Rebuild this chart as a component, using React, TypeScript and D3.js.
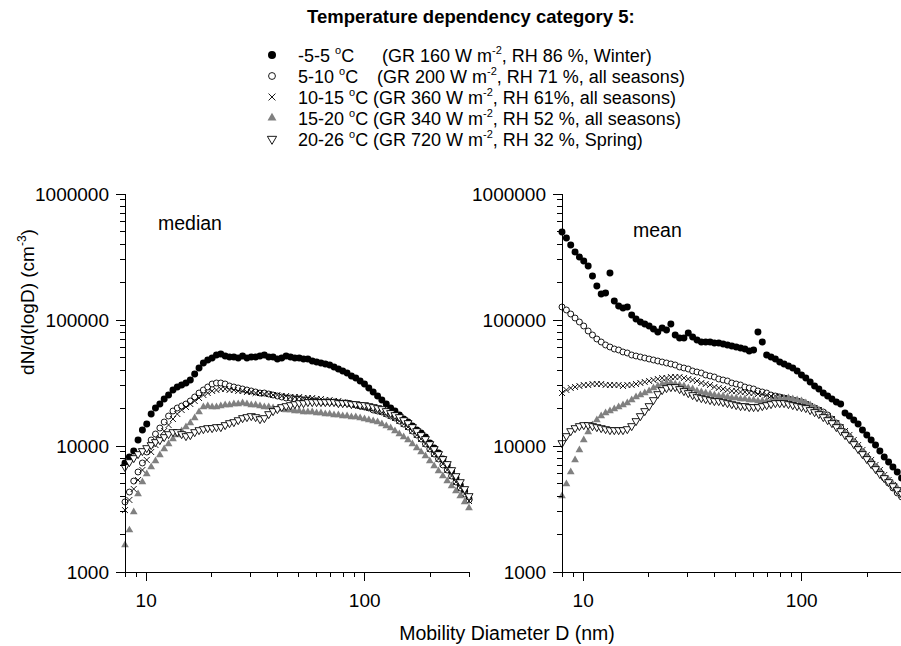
import * as d3 from "d3";

// mobility diameters (nm), same bins for every series
const diameters = [
  8.0, 8.38, 8.77, 9.18, 9.61, 10.06, 10.54, 11.03, 11.55, 12.09, 12.66, 13.26, 13.88, 14.53, 15.21, 15.92,
  16.67, 17.45, 18.27, 19.13, 20.03, 20.97, 21.95, 22.98, 24.06, 25.19, 26.37, 27.61, 28.91, 30.26, 31.68,
  33.17, 34.73, 36.36, 38.07, 39.85, 41.72, 43.68, 45.73, 47.88, 50.13, 52.48, 54.94, 57.52, 60.22, 63.05,
  66.01, 69.11, 72.35, 75.75, 79.3, 83.02, 86.92, 91.0, 95.28, 99.75, 104.4, 109.3, 114.5, 119.8, 125.5,
  131.4, 137.5, 144.0, 150.7, 157.8, 165.2, 173.0, 181.1, 189.6, 198.5, 207.8, 217.6, 227.8, 238.5, 249.7,
  261.4, 273.6, 286.5, 300.0,
];

// median, dN/dlogD (cm-3)
const medianCold = [
  7330, 8180, 9130, 11160, 13390, 14940, 17940, 20030, 21540, 23610, 25390, 27830, 29400, 30490, 31630, 33410,
  37280, 41600, 45580, 48150, 49940, 52750, 53730, 51800, 50860, 50860, 49940, 51800, 49940, 50860, 50860,
  51800, 52750, 50860, 50860, 49030, 49940, 51800, 50860, 49940, 49940, 49030, 49030, 47270, 46420, 45580,
  44760, 43940, 42370, 40850, 39380, 37970, 35940, 34650, 32810, 31050, 28870, 26830, 24930, 23180, 21540,
  20030, 18960, 17620, 16370, 15500, 14410, 13390, 12680, 11790, 10560, 9640, 8800, 7890, 7070, 6330, 5570,
  4900, 4390, 3800,
];
const median5to10 = [
  3600, 4310, 5270, 6220, 7330, 8960, 11160, 12450, 13890, 15500, 17300, 18960, 20030, 20770, 21540, 22770,
  24480, 26340, 27830, 29400, 31050, 31630, 31630, 31050, 29940, 29400, 28870, 28340, 27830, 27330, 26830,
  26340, 26340, 25870, 25390, 24930, 24480, 24040, 24040, 23610, 23610, 23180, 23180, 22770, 22770, 22350,
  22350, 22350, 22350, 21940, 21940, 21940, 21540, 21150, 20770, 20400, 20030, 19310, 18960, 18620, 17940,
  17300, 16680, 15790, 14940, 14150, 13150, 12230, 11370, 10370, 9470, 8640, 7890, 7070, 6450, 5780, 5180,
  4640, 4160, 3730,
];
const median10to15 = [
  3100, 3730, 4560, 5370, 6450, 7750, 8960, 10180, 11580, 13150, 14680, 16370, 17940, 19310, 20400, 21540,
  22770, 24040, 25390, 26340, 27330, 27830, 28340, 28340, 27830, 27830, 27330, 27330, 26830, 26830, 26340,
  26340, 25870, 25870, 25390, 25390, 24930, 24930, 24480, 24480, 24480, 24040, 24040, 24040, 23610, 23610,
  23180, 23180, 22770, 22770, 22350, 21940, 21540, 21150, 20770, 20400, 20030, 19670, 18960, 18620, 17940,
  17300, 16680, 15790, 14940, 14150, 13150, 12230, 11370, 10370, 9470, 8640, 7890, 7200, 6450, 5780, 5180,
  4640, 4160, 3660,
];
const median15to20 = [
  1640, 2150, 2990, 4160, 5180, 6000, 6810, 7600, 8480, 9470, 10370, 11370, 12230, 13150, 14150, 15220,
  16680, 18620, 20400, 20770, 20400, 20400, 20770, 21150, 21150, 21540, 21540, 21940, 21540, 21150, 21150,
  20770, 20400, 20400, 20030, 19670, 19670, 19310, 19310, 18960, 18960, 18620, 18620, 18620, 18290, 18290,
  17940, 17940, 17620, 17620, 17300, 17300, 16990, 16990, 16680, 16370, 16070, 15790, 15500, 14940, 14410,
  13890, 13150, 12450, 11790, 11160, 10370, 9640, 8960, 8330, 7600, 6940, 6330, 5780, 5270, 4810, 4390,
  4010, 3600, 3220,
];
const median20to26 = [
  6810, 7460, 8030, 8640, 9130, 9640, 10180, 10760, 11160, 11790, 12450, 12910, 12910, 12450, 12000, 12230,
  12910, 13390, 13640, 13890, 13890, 14150, 14150, 14680, 15220, 15500, 16070, 16680, 16990, 17300, 16990,
  16370, 16680, 17940, 18960, 19670, 20400, 20770, 21150, 21540, 21940, 21940, 22350, 22350, 22350, 22350,
  22350, 22350, 22350, 21940, 21940, 21940, 21540, 21540, 21150, 21150, 20770, 20400, 20030, 19670, 18960,
  18290, 17620, 16990, 16070, 15220, 14150, 13150, 12230, 11370, 10370, 9470, 8640, 7890, 7200, 6450, 5780,
  5180, 4560, 4010,
];

// mean, dN/dlogD (cm-3)
const meanCold = [
  499000, 447500, 393800, 346500, 316300, 293900, 268300, 223400, 186100, 160800, 163700, 236100, 141500,
  129100, 124500, 126800, 109600, 101800, 96410, 92960, 89630, 84850, 80320, 86420, 83320, 92960, 76040,
  71970, 71970, 78870, 73300, 69390, 66910, 66910, 66910, 65700, 65700, 64510, 63340, 62200, 61070, 59970,
  58880, 56770, 57810, 80320, 66910, 52750, 50860, 49030, 46420, 44760, 43150, 41600, 39380, 36610, 34650,
  32210, 29940, 28340, 26340, 24930, 23610, 22350, 21540, 18290, 17300, 16070, 14940, 13390, 12230, 11160,
  10180, 9130, 8180, 7460, 6810, 6220, 5570, 4990,
];
const mean5to10 = [
  126800, 120100, 111600, 103700, 96410, 89630, 81800, 76040, 70670, 66910, 63340, 61070, 58880, 57810,
  55740, 54730, 52750, 51800, 50860, 49940, 49030, 48150, 47270, 46420, 45580, 44760, 43940, 42370, 41600,
  40850, 39380, 38670, 37970, 36610, 35940, 35290, 34030, 33410, 32810, 31630, 31050, 30490, 29400, 28870,
  28340, 27330, 26830, 26340, 25390, 24930, 24480, 24040, 23610, 23180, 22770, 22350, 21540, 20770, 20030,
  19310, 18620, 17620, 16370, 15220, 14150, 12910, 11790, 10760, 9820, 8960, 8180, 7460, 6810, 6220, 5570,
  5080, 4640, 4240, 3940, 3600,
];
const mean10to15 = [
  26340, 27830, 28870, 29400, 29940, 30490, 30490, 31050, 31050, 31050, 30490, 30490, 30490, 30490, 29940,
  30490, 30490, 31050, 31630, 32210, 32810, 33410, 34030, 34650, 34650, 35290, 35290, 35290, 34650, 34030,
  33410, 32810, 31630, 31050, 30490, 29400, 28870, 28340, 27830, 27330, 27330, 26830, 26830, 26340, 26340,
  25870, 25870, 25390, 24930, 24930, 24480, 24040, 23610, 23180, 22770, 22350, 21540, 20770, 20030, 19310,
  18290, 17300, 16370, 15220, 14150, 13150, 12230, 11160, 10180, 9300, 8480, 7750, 7070, 6450, 5890, 5370,
  4900, 4470, 4090, 3730,
];
const mean15to20 = [
  4010, 4990, 6220, 7750, 9300, 11160, 12910, 14680, 16070, 17300, 18290, 18960, 19670, 20400, 21150, 21940,
  23180, 24480, 25390, 26340, 27330, 28870, 29940, 31050, 31630, 31630, 31050, 30490, 29940, 28870, 28340,
  27330, 26830, 26340, 25870, 25390, 24930, 24930, 24480, 24040, 24040, 23610, 23610, 23180, 23180, 22770,
  22770, 22770, 22770, 23180, 23610, 23610, 24040, 23610, 23180, 22770, 21940, 21150, 20030, 18960, 17940,
  16990, 15790, 14680, 13640, 12680, 11790, 10760, 9820, 8960, 8180, 7460, 6810, 6220, 5780, 5370, 4990,
  4640, 4310, 4010,
];
const mean20to26 = [
  10560, 12000, 13150, 13890, 14410, 14680, 14680, 14410, 14150, 13890, 13640, 13390, 13390, 13390, 13390,
  13640, 14410, 15790, 17300, 18960, 20770, 23180, 25870, 27830, 28870, 29400, 29400, 28340, 27330, 26340,
  25390, 24480, 24040, 23610, 23180, 22770, 22770, 22350, 21940, 21540, 21150, 20770, 20770, 20400, 20400,
  20400, 20770, 21150, 21540, 21940, 21940, 21940, 21540, 21150, 20770, 20400, 20030, 19310, 18620, 17940,
  16990, 16070, 15220, 14150, 13150, 12230, 11370, 10370, 9470, 8640, 7890, 7200, 6570, 6000, 5570, 5180,
  4810, 4470, 4160, 3870,
];

const yMajorTicks = [1000, 10000, 100000, 1000000];
const yMinorTicks = [
  2000, 3000, 4000, 5000, 6000, 7000, 8000, 9000, 20000, 30000, 40000, 50000, 60000, 70000, 80000, 90000,
  200000, 300000, 400000, 500000, 600000, 700000, 800000, 900000,
];
const xMajorTicks = [10, 100];
const xMinorTicks = [8, 9, 20, 30, 40, 50, 60, 70, 80, 90, 200, 300];

const legendTemps = ["-5-5", "5-10", "10-15", "15-20", "20-26"];
const legendGR = ["160", "200", "360", "340", "720"];
const legendRest = [
  ", RH 86 %, Winter)",
  ", RH 71 %, all seasons)",
  ", RH 61%, all seasons)",
  ", RH 52 %, all seasons)",
  ", RH 32 %, Spring)",
];

const FONT = "'Liberation Sans', Arial, Helvetica, sans-serif";
const TICK_FS = 19;
const LEG_FS = 18;

type Marker = "dot" | "circle" | "times" | "triangle" | "down";
const markerOrder: Marker[] = ["dot", "circle", "times", "triangle", "down"];

const paths: Record<Marker, string> = {
  dot: d3.symbol().type(d3.symbolCircle).size(38)() as string,
  circle: d3.symbol().type(d3.symbolCircle).size(28)() as string,
  times: "M-3,-3L3,3M-3,3L3,-3",
  triangle: d3.symbol().type(d3.symbolTriangle).size(26)() as string,
  down: d3.symbol().type(d3.symbolTriangle).size(28)() as string,
};

function MarkerShape({ m, x, y, scale = 1 }: { m: Marker; x: number; y: number; scale?: number }) {
  const rot = m === "down" ? " rotate(180)" : "";
  const t = `translate(${x},${y}) scale(${scale})${rot}`;
  if (m === "dot") return <path d={paths.dot} transform={t} fill="#000" />;
  if (m === "circle")
    return <path d={paths.circle} transform={t} fill="#fff" stroke="#000" strokeWidth={0.9 / scale} />;
  if (m === "times") return <path d={paths.times} transform={t} fill="none" stroke="#000" strokeWidth={0.9 / scale} />;
  if (m === "triangle") return <path d={paths.triangle} transform={t} fill="#808080" />;
  return <path d={paths.down} transform={t} fill="#fff" stroke="#000" strokeWidth={0.9 / scale} />;
}

const y = d3.scaleLog().domain([1000, 1000000]).range([572, 194]);

function Panel({
  left,
  right,
  series,
  label,
  labelX,
  labelY,
}: {
  left: number;
  right: number;
  series: number[][];
  label: string;
  labelX: number;
  labelY: number;
}) {
  const x = d3.scaleLog().domain([8, 300]).range([left, right]);
  const y0 = y(1000);
  return (
    <g>
      {series.map((vals, si) => (
        <g key={si}>
          {diameters.map((d, i) => (
            <MarkerShape key={i} m={markerOrder[si]} x={x(d)} y={y(vals[i])} />
          ))}
        </g>
      ))}
      <g stroke="#000" strokeWidth={1} shapeRendering="crispEdges">
        <line x1={left} x2={left} y1={y(1000000)} y2={y0} />
        <line x1={left} x2={right} y1={y0} y2={y0} />
        {yMajorTicks.map((t) => (
          <line key={t} x1={left - 9} x2={left} y1={y(t)} y2={y(t)} />
        ))}
        {yMinorTicks.map((t) => (
          <line key={t} x1={left - 5} x2={left} y1={y(t)} y2={y(t)} />
        ))}
        {xMajorTicks.map((t) => (
          <line key={t} x1={x(t)} x2={x(t)} y1={y0} y2={y0 + 9} />
        ))}
        {xMinorTicks.map((t) => (
          <line key={t} x1={x(t)} x2={x(t)} y1={y0} y2={y0 + 5} />
        ))}
      </g>
      <g fontFamily={FONT} fontSize={TICK_FS} fill="#000">
        {yMajorTicks.map((t) => (
          <text key={t} x={left - 16} y={y(t)} dy="0.35em" textAnchor="end">
            {t}
          </text>
        ))}
        {xMajorTicks.map((t) => (
          <text key={t} x={x(t)} y={y0 + 35} textAnchor="middle">
            {t}
          </text>
        ))}
      </g>
      <text x={labelX} y={labelY} fontFamily={FONT} fontSize={19.5}>
        {label}
      </text>
    </g>
  );
}

export default function App() {
  return (
    <div>
      <style>{"body{margin:0}"}</style>
      <svg width={901} height={646} style={{ display: "block", background: "#fff" }}>
        <g fontFamily={FONT} fontSize={LEG_FS} fill="#000">
          <text x={307} y={23} fontWeight="bold" fontSize={18.5}>
            Temperature dependency category 5:
          </text>
          {legendTemps.map((t, i) => {
            const ry = 55 + i * 21;
            const descX = i === 0 ? 382 : i === 1 ? 377 : 373;
            return (
              <g key={t}>
                <MarkerShape m={markerOrder[i]} x={272} y={ry} scale={1.15} />
                <text x={298} y={ry + 6.5}>
                  {t + " "}
                  <tspan fontSize={11} dy={-8}>
                    o
                  </tspan>
                  <tspan dy={8}>C</tspan>
                </text>
                <text x={descX} y={ry + 6.5}>
                  {"(GR " + legendGR[i] + " W m"}
                  <tspan fontSize={11} dy={-8}>
                    -2
                  </tspan>
                  <tspan dy={8}>{legendRest[i]}</tspan>
                </text>
              </g>
            );
          })}
        </g>
        <g fontFamily={FONT} fontSize={19} fill="#000">
          <text transform="translate(34,302) rotate(-90)" textAnchor="middle">
            {"dN/d(logD)  (cm"}
            <tspan fontSize={12} dy={-8}>
              -3
            </tspan>
            <tspan dy={8}>)</tspan>
          </text>
          <text x={507} y={640} textAnchor="middle" fontSize={19.5}>
            Mobility Diameter D (nm)
          </text>
        </g>
        <Panel
          left={125}
          right={469}
          series={[medianCold, median5to10, median10to15, median15to20, median20to26]}
          label="median"
          labelX={158}
          labelY={230}
        />
        <Panel
          left={562}
          right={906}
          series={[meanCold, mean5to10, mean10to15, mean15to20, mean20to26]}
          label="mean"
          labelX={633}
          labelY={237}
        />
      </svg>
    </div>
  );
}
